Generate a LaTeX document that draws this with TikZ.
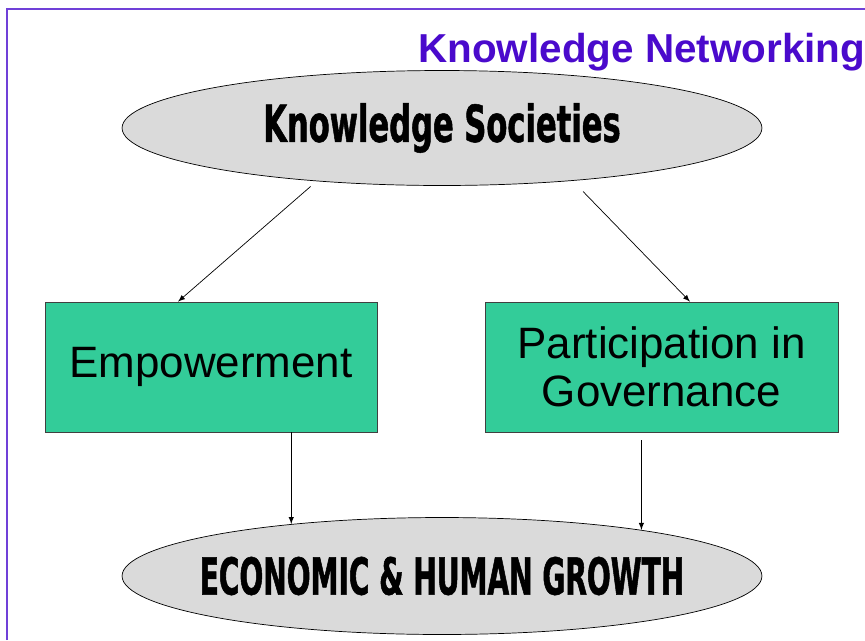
\documentclass[tikz,border=0pt]{standalone}
\usepackage{fontspec}
\usepackage{tikz}
\usetikzlibrary{shapes.geometric}
\setmainfont{Liberation Sans}
\newfontfamily\heavyfont[FakeStretch=0.6,FakeBold=1]{DejaVu Sans}
\newfontfamily\heavyfontnarrow[FakeStretch=0.55,FakeBold=1]{DejaVu Sans}
\definecolor{framecol}{HTML}{7040D8}
\definecolor{titlecol}{HTML}{4A0ACC}
\definecolor{boxgreen}{HTML}{33CC99}
\definecolor{ellgray}{HTML}{DADADA}
\tikzset{
	ellip/.style={ellipse, draw=black, fill=ellgray, minimum width=12.8cm, minimum height=2.3cm, inner sep=0pt,
		font=\heavyfont\bfseries\fontsize{29}{32}\selectfont},
	greenbox/.style={rectangle, draw=black!75, fill=boxgreen, minimum height=2.6cm, align=center,
		font=\fontsize{25}{27}\selectfont},
}

\begin{document}
\begin{tikzpicture}[x=0.02cm,y=-0.02cm]
	\useasboundingbox (0,0) rectangle (865,640);
	\draw [framecol, line width=1pt] (7,640) -- (7,9) -- (865,9);
	\node [anchor=base west, inner sep=0pt, text=titlecol, font=\bfseries\fontsize{23}{28}\selectfont] (title) at (418,62) {Knowledge Networking};
	\node [ellip] (KS) at (442,128) {\makebox[0pt]{Knowledge Societies}};
	\node [greenbox, minimum width=6.64cm] (E) at (211,367) {Empowerment};
	\node [greenbox, minimum width=7.06cm] (P) at (661.5,367) {Participation in\\Governance};
	\node [ellip, minimum height=2.34cm] (G) at (442,576) {\makebox[0pt]{\heavyfontnarrow\bfseries ECONOMIC \& HUMAN GROWTH}};
	\draw [-latex, shorten <=0.16cm] (KS.203) -- ([xshift=-0.66cm]E.north);
	\draw [-latex, shorten <=0.3cm] (KS.-22) -- ([xshift=0.57cm]P.north);
	\draw [-latex] (E.south -| G.161) -- (G.161);
	\draw [-latex, shorten <=0.16cm] (P.south -| G.13) -- (G.13);
\end{tikzpicture}
\end{document}
